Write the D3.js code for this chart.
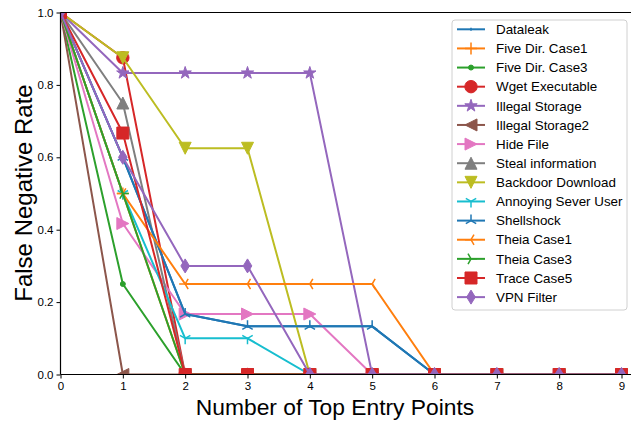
<!DOCTYPE html>
<html>
<head>
<meta charset="utf-8">
<script src="https://cdn.jsdelivr.net/npm/d3@7"></script>
<style>
  body { margin: 0; background: #fff; }
  text { font-family: "Liberation Sans", Arial, sans-serif; }
</style>
</head>
<body>
<script>
// x values (number of top entry points)
const entryPoints = [0, 1, 2, 3, 4, 5, 6, 7, 8, 9];
const yTicks = [0, 0.2, 0.4, 0.6, 0.8, 1.0];

// false negative rate per case
const dataleak        = [1, 0.6,   0.167, 0.133, 0.133, 0.133, 0, 0, 0, 0];
const fiveDirCase1    = [1, 0.5,   0,     0,     0,     0,     0, 0, 0, 0];
const fiveDirCase3    = [1, 0.25,  0,     0,     0,     0,     0, 0, 0, 0];
const wgetExecutable  = [1, 0.875, 0,     0,     0,     0,     0, 0, 0, 0];
const illegalStorage  = [1, 0.833, 0.833, 0.833, 0.833, 0,     0, 0, 0, 0];
const illegalStorage2 = [1, 0,     0,     0,     0,     0,     0, 0, 0, 0];
const hideFile        = [1, 0.417, 0.167, 0.167, 0.167, 0,     0, 0, 0, 0];
const stealInfo       = [1, 0.75,  0,     0,     0,     0,     0, 0, 0, 0];
const backdoor        = [1, 0.875, 0.625, 0.625, 0,     0,     0, 0, 0, 0];
const annoying        = [1, 0.5,   0.1,   0.1,   0,     0,     0, 0, 0, 0];
const shellshock      = [1, 0.6,   0.167, 0.133, 0.133, 0.133, 0, 0, 0, 0];
const theiaCase1      = [1, 0.5,   0.25,  0.25,  0.25,  0.25,  0, 0, 0, 0];
const theiaCase3      = [1, 0.5,   0,     0,     0,     0,     0, 0, 0, 0];
const traceCase5      = [1, 0.667, 0,     0,     0,     0,     0, 0, 0, 0];
const vpnFilter       = [1, 0.6,   0.3,   0.3,   0,     0,     0, 0, 0, 0];

const names = ["Dataleak", "Five Dir. Case1", "Five Dir. Case3", "Wget Executable",
  "Illegal Storage", "Illegal Storage2", "Hide File", "Steal information",
  "Backdoor Download", "Annoying Sever User", "Shellshock", "Theia Case1",
  "Theia Case3", "Trace Case5", "VPN Filter"];
const values = [dataleak, fiveDirCase1, fiveDirCase3, wgetExecutable, illegalStorage,
  illegalStorage2, hideFile, stealInfo, backdoor, annoying, shellshock, theiaCase1,
  theiaCase3, traceCase5, vpnFilter];
const markers = ["|", "+", ".", "o", "*", "<", ">", "^", "v", "1", "2", "3", "4", "s", "d"];
const colors = ["#1f77b4", "#ff7f0e", "#2ca02c", "#d62728", "#9467bd", "#8c564b",
  "#e377c2", "#7f7f7f", "#bcbd22", "#17becf", "#1f77b4", "#ff7f0e", "#2ca02c",
  "#d62728", "#9467bd"];

const W = 631, H = 422,
      m = {left: 60.5, top: 12.5, bottom: 374.5, right: 631};

const x = d3.scaleLinear().domain([0, 9]).range([m.left, 621.5]),
      y = d3.scaleLinear().domain([0, 1]).range([m.bottom, m.top]);

const svg = d3.select("body").append("svg")
  .attr("width", W).attr("height", H);

svg.append("defs").append("clipPath").attr("id", "plot")
  .append("rect").attr("x", m.left).attr("y", m.top)
  .attr("width", m.right - m.left).attr("height", m.bottom - m.top);

// marker shapes, roughly like matplotlib's
const filled = new Set([".", "o", "*", "<", ">", "^", "v", "s", "d"]);
function markerPath(mk) {
  const s = 12, h = s / 2;
  const c = 0.866 * h, t = h / 2;
  switch (mk) {
    case "|": return "M0,-1.5V1.5";
    case "+": return `M${-h},0H${h}M0,${-h}V${h}`;
    case ".": return circle(2.5);
    case "o": return circle(6.2);
    case "*": {
      const pts = [];
      for (let i = 0; i < 10; i++) {
        const r = i % 2 ? 6.5 * 0.382 : 6.5, a = -Math.PI / 2 + i * Math.PI / 5;
        pts.push([r * Math.cos(a), r * Math.sin(a)]);
      }
      return "M" + pts.join("L") + "Z";
    }
    case "^": return `M0,${-h}L${h},${h}L${-h},${h}Z`;
    case "v": return `M0,${h}L${h},${-h}L${-h},${-h}Z`;
    case "<": return `M${-h},0L${h},${-h}L${h},${h}Z`;
    case ">": return `M${h},0L${-h},${-h}L${-h},${h}Z`;
    case "1": return `M0,0V${h}M0,0L${-c},${-t}M0,0L${c},${-t}`;
    case "2": return `M0,0V${-h}M0,0L${-c},${t}M0,0L${c},${t}`;
    case "3": return `M0,0H${-h}M0,0L${t},${-c}M0,0L${t},${c}`;
    case "4": return `M0,0H${h}M0,0L${-t},${-c}M0,0L${-t},${c}`;
    case "s": return "M-6,-6H6V6H-6Z";
    case "d": return "M0,-7L4.3,0L0,7L-4.3,0Z";
  }
}
function circle(r) {
  const p = d3.path();
  p.arc(0, 0, r, 0, 2 * Math.PI);
  return p.toString();
}

function drawMarker(g, mk, color, px, py) {
  g.append("path")
    .attr("d", markerPath(mk))
    .attr("transform", `translate(${px},${py})`)
    .attr("fill", filled.has(mk) ? color : "none")
    .attr("stroke", color)
    .attr("stroke-width", filled.has(mk) ? 1 : 1.5);
}

const line = d3.line().x((d, i) => x(entryPoints[i])).y(d => y(d));

const plot = svg.append("g").attr("clip-path", "url(#plot)");
values.forEach((vals, k) => {
  const g = plot.append("g");
  g.append("path").datum(vals)
    .attr("d", line)
    .attr("fill", "none")
    .attr("stroke", colors[k])
    .attr("stroke-width", 2)
    .attr("stroke-linejoin", "round");
  vals.forEach((v, i) => drawMarker(g, markers[k], colors[k], x(entryPoints[i]), y(v)));
});

// axes
const xAxis = svg.append("g")
  .attr("transform", `translate(0,${m.bottom})`)
  .call(d3.axisBottom(x).tickValues(entryPoints).tickFormat(d3.format("d"))
    .tickSize(4).tickPadding(3));
const yAxis = svg.append("g")
  .attr("transform", `translate(${m.left},0)`)
  .call(d3.axisLeft(y).tickValues(yTicks).tickFormat(d3.format(".1f"))
    .tickSize(4).tickPadding(3));
[xAxis, yAxis].forEach(a => {
  a.select(".domain").remove();
  a.selectAll("text").attr("font-size", 11.5).attr("fill", "#000")
    .style("font-family", "'Liberation Sans', Arial, sans-serif");
  a.selectAll("line").attr("stroke", "#000").attr("stroke-width", 1);
});

// spines: left, top, bottom
const spines = [[m.left, m.top, m.left, m.bottom], [m.left, m.top, m.right, m.top],
  [m.left, m.bottom, m.right, m.bottom]];
svg.selectAll(".spine").data(spines).enter().append("line")
  .attr("x1", d => d[0]).attr("y1", d => d[1])
  .attr("x2", d => d[2]).attr("y2", d => d[3])
  .attr("stroke", "#000").attr("stroke-width", 1.2);

// axis labels
svg.append("text")
  .attr("x", 335).attr("y", 415)
  .attr("text-anchor", "middle").attr("font-size", 22.8)
  .text("Number of Top Entry Points");
svg.append("text")
  .attr("transform", "translate(32,193) rotate(-90)")
  .attr("text-anchor", "middle").attr("font-size", 24)
  .text("False Negative Rate");

// legend
const lg = svg.append("g");
lg.append("rect")
  .attr("x", 452).attr("y", 20).attr("width", 175).attr("height", 290)
  .attr("rx", 3).attr("fill", "#fff").attr("fill-opacity", 0.8)
  .attr("stroke", "#d0d0d0").attr("stroke-width", 1);
names.forEach((n, k) => {
  const yy = 29.3 + k * 19.13;
  const row = lg.append("g");
  row.append("line").attr("x1", 457).attr("x2", 485).attr("y1", yy).attr("y2", yy)
    .attr("stroke", colors[k]).attr("stroke-width", 2);
  drawMarker(row, markers[k], colors[k], 471, yy);
  row.append("text").attr("x", 496).attr("y", yy).attr("dy", "0.35em")
    .attr("font-size", 13.4).attr("fill", "#000").text(n);
});
</script>
</body>
</html>
